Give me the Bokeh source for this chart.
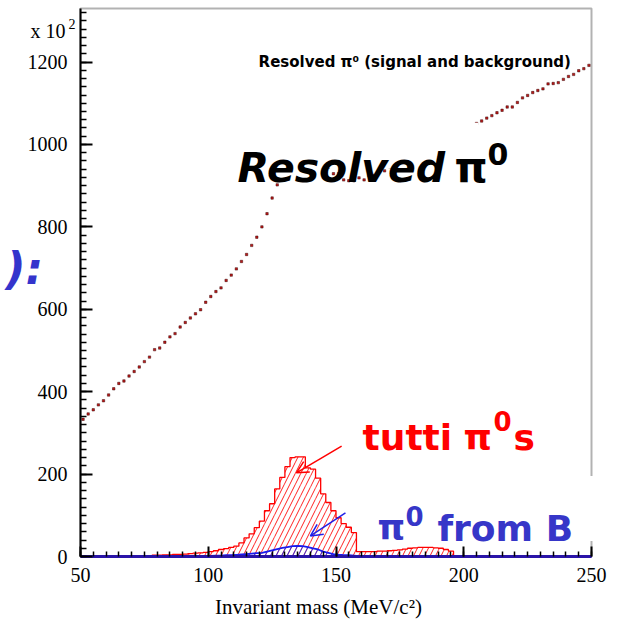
from bokeh.plotting import figure
from bokeh.models import (Range1d, SingleIntervalTicker, Label, BoxAnnotation, Arrow,
                          OpenHead, LinearAxis)
from bokeh.embed import file_html
from bokeh.resources import INLINE
import numpy as np

# ---------------- data ----------------
# bin centres (2 MeV bins from 50 to 250)
mass = np.arange(51, 250, 2)

# signal + background (in units of 10^2)
total = [333, 346, 356, 368, 378, 392, 407, 420, 426, 438, 449, 460, 473, 484, 502, 506, 520, 533, 541, 557, 568,
         579, 589, 599, 617, 631, 643, 652, 670, 683, 698, 716, 733, 755, 775, 800, 832, 870, 902, 939,
         972, 1000, 1012, 1008, 995, 980, 966, 954, 945,
         929, 929, 914, 912, 912, 919, 914, 924, 925, 936, 936,
         946, 951, 955, 958, 964, 970, 977, 983, 990, 997, 1003, 1010, 1017, 1024, 1031, 1038, 1044, 1051,
         1057, 1064, 1070, 1077, 1083, 1091, 1091, 1102, 1113, 1119, 1126, 1131, 1135, 1147, 1148, 1150,
         1158, 1165, 1170, 1179, 1184, 1192]

# all true pi0 ("tutti pi0s")
red_mass = list(range(73, 197, 2))
red_vals = [1, 2, 2, 3, 3, 4, 4, 5, 5, 6, 7, 8, 9, 10, 12, 14,
            17, 19, 22, 25, 33, 45, 55, 70, 86, 111, 128, 164, 192, 218, 240, 242, 242,
            215, 212, 190, 152, 131, 111, 94, 80, 71, 58,
            12, 12, 12, 12, 13, 13, 14, 15, 16, 18, 20, 21, 22, 22, 22, 21, 20, 17, 13]

# pi0 from B
blue_mass = [50, 93, 95, 97, 99, 101, 103, 105, 107, 109, 111, 113, 115, 117, 119, 121, 123, 125, 127, 129,
             131, 133, 135, 137, 139, 141, 143, 145, 147, 149, 151, 153, 155, 157, 159, 161, 163, 250]
blue_vals = [0, 0, 0.5, 1, 1, 1.5, 2, 2, 3, 3, 4, 5, 6, 7, 8, 9, 12, 15, 18, 21,
             23, 25, 25.5, 25, 23, 20, 17, 12, 9, 6, 4.5, 3.5, 3, 2, 1, 0.5, 0, 0]

x_lo, x_hi = 50, 250
y_lo, y_hi = 0, 1330
x_ticks_interval = 50
y_ticks_interval = 200

assert len(total) == len(mass)
assert len(red_vals) == len(red_mass)
assert len(blue_vals) == len(blue_mass)

# ---------------- figure ----------------
# The drawing area spans the whole canvas; the histogram box (50..250 x 0..1330)
# sits at canvas pixels x 80..591, y 8..556, with axes pinned to its edges.
W, H = 619, 620
BOX_L, BOX_R, BOX_T, BOX_B = 80, 591, 8, 556
sxu = (BOX_R - BOX_L) / (x_hi - x_lo)
syu = (BOX_B - BOX_T) / (y_hi - y_lo)
xr = Range1d(x_lo - BOX_L / sxu, x_lo - BOX_L / sxu + W / sxu)
yr = Range1d(y_hi + BOX_T / syu - H / syu, y_hi + BOX_T / syu)

p = figure(width=W, height=H, x_range=xr, y_range=yr,
           x_axis_location=None, y_axis_location=None,
           output_backend="svg", toolbar_location=None, min_border=0)
p.background_fill_color = "white"
p.border_fill_color = "white"
p.outline_line_color = None
p.grid.visible = False

SERIF = "Liberation Serif"
COMIC = "DejaVu Sans"

# histogram frame
p.add_layout(BoxAnnotation(left=x_lo, right=x_hi, bottom=y_lo, top=y_hi, fill_alpha=0,
                           line_color="black", line_width=2, level="underlay"))

# red hatched histogram
red_arr = np.array(red_vals, dtype=float)
red_c = np.array(red_mass, dtype=float)
p.quad(left=red_c - 1, right=red_c + 1, bottom=0, top=red_arr,
       fill_alpha=0, line_alpha=0, hatch_pattern="/", hatch_color="#ff2020",
       hatch_scale=11, hatch_weight=1)
sx = [red_mass[0] - 1] + [c - 1 for c in red_mass] + [red_mass[-1] + 1]
sy = [0] + red_vals + [0]
p.step(x=sx, y=sy, mode="after", line_color="#ff0000", line_width=1.3)

# blue hatched histogram
p.varea(x=blue_mass, y1=0, y2=blue_vals, fill_alpha=0, hatch_pattern="/",
        hatch_color="#3030e0", hatch_scale=11, hatch_weight=1)
p.line(x=blue_mass, y=blue_vals, line_color="#1a1aee", line_width=1.8)

# signal + background points
p.scatter(x=mass, y=total, marker="square", size=2.4,
          fill_color="#c01818", line_color="#3a0808", line_width=0.5)

# axes pinned to the histogram box
def style(ax, tin, mtin):
    ax.major_label_text_font = SERIF
    ax.major_label_text_font_size = "20px"
    ax.major_label_text_color = "black"
    ax.major_tick_out = 0
    ax.minor_tick_out = 0
    ax.major_tick_in = tin
    ax.minor_tick_in = mtin
    ax.major_tick_line_color = "black"
    ax.minor_tick_line_color = "black"
    ax.major_tick_line_width = 2
    ax.minor_tick_line_width = 1.5

xax = LinearAxis(fixed_location=y_lo, bounds=(x_lo, x_hi),
                 ticker=SingleIntervalTicker(interval=x_ticks_interval, num_minor_ticks=10))
style(xax, 10, 5)
xax.major_label_standoff = 11
xax.axis_line_color = "#2a14a8"
xax.axis_line_width = 3
p.add_layout(xax, "below")

yax = LinearAxis(fixed_location=x_lo, bounds=(y_lo, y_hi),
                 ticker=SingleIntervalTicker(interval=y_ticks_interval, num_minor_ticks=10))
style(yax, 12, 6)
yax.major_label_standoff = 13
yax.axis_line_color = "black"
yax.axis_line_width = 2
p.add_layout(yax, "left")

# white masks behind overlay texts
p.add_layout(BoxAnnotation(left=111.4, right=205.7, bottom=942, top=1053,
                           fill_color="white", fill_alpha=1, line_alpha=0))
p.add_layout(BoxAnnotation(left=162.7, right=255.5, bottom=37.7, top=195.6,
                           fill_color="white", fill_alpha=1, line_alpha=0))

def lab(x, y, text, size, color="black", font=COMIC, style="bold", align="left"):
    p.add_layout(Label(x=x, y=y, text=text, text_font=font, text_font_size=size,
                       text_font_style=style, text_color=color, text_align=align,
                       text_baseline="alphabetic"))

def plab(cx, cy, text, size, color="black", font=SERIF, style="normal", align="left"):
    # position given in canvas pixels from the top-left corner
    lab(xr.start + cx / sxu, yr.end - cy / syu, text, size, color, font, style, align)

# small title
lab(119.7, 1199, "Resolved π⁰ (signal and background)", "15px")
# big label
lab(111.4, 944, "Resolved", "41px", style="bold italic")
lab(196.4, 944, "π", "42px")
lab(209.3, 978, "0", "30px")
# tutti pi0s
lab(160.4, 288, "tutti", "36px", color="#ff0000")
lab(199.9, 288, "π", "36px", color="#ff0000")
lab(211.6, 329, "0", "26px", color="#ff0000")
lab(219.5, 288, "s", "36px", color="#ff0000")
# pi0 from B
lab(166.2, 69, "π", "35px", color="#3636c8")
lab(177.2, 99, "0", "26px", color="#3636c8")
lab(189.7, 69, "from B", "36px", color="#3636c8")

# texts outside the histogram box
plab(30, 30, "x 10", "20px")
plab(68, 23, "2", "14px")
plab(5, 268, "):", "44px", color="#3434cc", font=COMIC, style="bold italic")
plab(318, 606, "Invariant mass (MeV/c²)", "21px", align="center")

# arrows
p.add_layout(Arrow(end=OpenHead(size=12, line_color="#ff0000", line_width=1.5),
                   x_start=152.2, y_start=268, x_end=134.5, y_end=203,
                   line_color="#ff0000", line_width=1.5))
p.add_layout(Arrow(end=OpenHead(size=12, line_color="#2020e8", line_width=1.5),
                   x_start=153.7, y_start=106, x_end=140, y_end=50,
                   line_color="#2020e8", line_width=1.5))

open("out.html", "w").write(file_html(p, INLINE))
